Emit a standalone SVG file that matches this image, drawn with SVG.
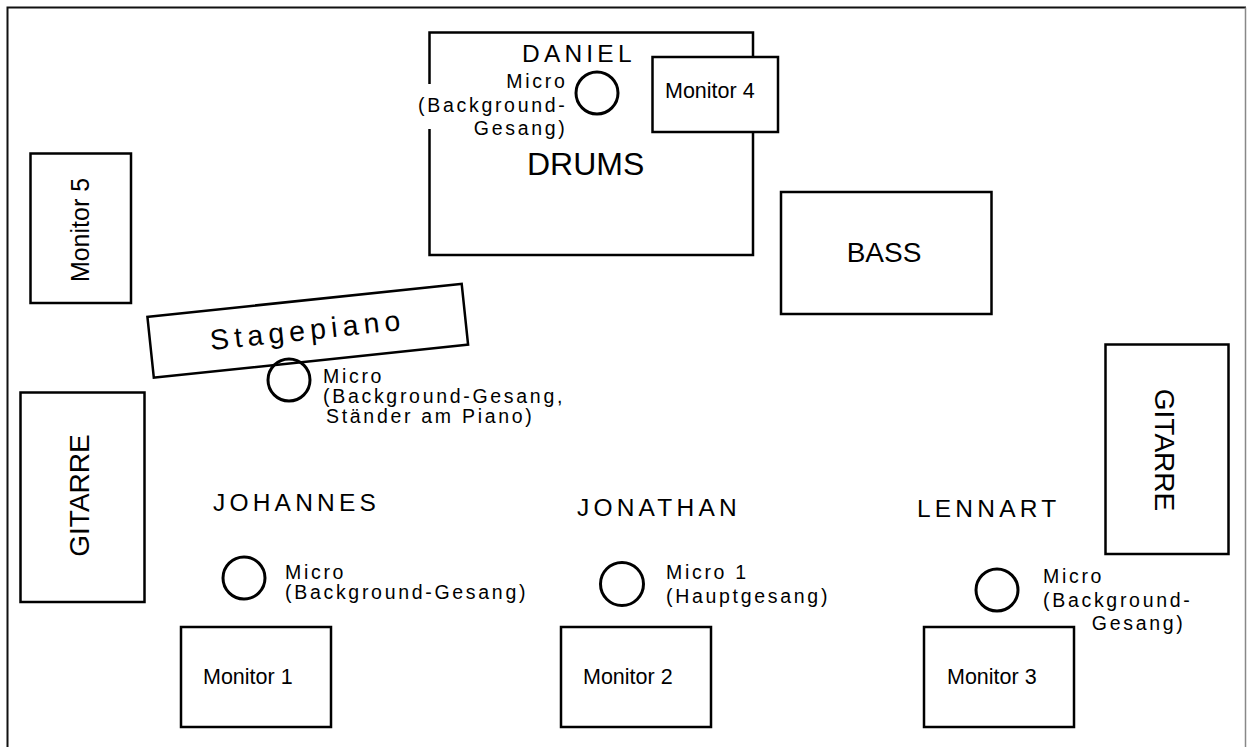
<svg xmlns="http://www.w3.org/2000/svg" width="1247" height="747" viewBox="0 0 1247 747">
<style>
text{font-family:"Liberation Sans",Arial,Helvetica,sans-serif;fill:#000}
.box{fill:#fff;stroke:#000;stroke-width:2.5}
.mic{fill:none;stroke:#000;stroke-width:3}
.mon{font-size:21.5px}
.name{font-size:24.5px;letter-spacing:4.2px}
.lbl{font-size:19.5px;letter-spacing:2.7px}
.big{font-size:28px}
</style>
<rect width="1247" height="747" fill="#fff"/>
<g id="border">
<path d="M7.5,747 V7.5 H1246" fill="none" stroke="#111" stroke-width="2"/>
<path d="M1245.5,7.5 V747" fill="none" stroke="#888" stroke-width="1.5"/>
</g>
<g id="drums">
<rect class="box" x="429.5" y="32.5" width="323.5" height="222.5"/>
<rect x="414" y="84" width="40" height="45" fill="#fff"/>
<text x="522" y="62" class="name">DANIEL</text>
<text x="527" y="175" font-size="32px">DRUMS</text>
</g>
<g id="mic-drums">
<circle class="mic" cx="597" cy="93" r="21"/>
<text class="lbl" text-anchor="end"><tspan x="567.5" y="88">Micro</tspan><tspan x="567.5" y="112">(Background-</tspan><tspan x="567.5" y="135">Gesang)</tspan></text>
</g>
<g id="monitor4">
<rect class="box" x="652.5" y="57" width="125.5" height="75"/>
<text x="665" y="98" class="mon">Monitor 4</text>
</g>
<g id="monitor5">
<rect class="box" x="30.5" y="153.5" width="100.5" height="149.5"/>
<text transform="translate(89,230) rotate(-90)" text-anchor="middle" font-size="25px">Monitor 5</text>
</g>
<g id="bass">
<rect class="box" x="781" y="192" width="210.5" height="122"/>
<text x="884" y="262" text-anchor="middle" class="big">BASS</text>
</g>
<g id="stagepiano" transform="translate(307.75,330.75) rotate(-6)">
<rect class="box" x="-158" y="-30.6" width="316" height="61.2"/>
<text x="0" y="9" text-anchor="middle" font-size="28.5px" letter-spacing="5.2px">Stagepiano</text>
</g>
<g id="mic-piano">
<circle class="mic" cx="289" cy="380" r="21"/>
<text class="lbl"><tspan x="323" y="383">Micro</tspan><tspan x="323" y="403">(Background-Gesang,</tspan><tspan x="326" y="423">Ständer am Piano)</tspan></text>
</g>
<g id="gitarre-left">
<rect class="box" x="20.5" y="392.5" width="124" height="209.5"/>
<text transform="translate(89,495.5) rotate(-90)" text-anchor="middle" class="big">GITARRE</text>
</g>
<g id="gitarre-right">
<rect class="box" x="1105.5" y="344.5" width="123" height="209.5"/>
<text transform="translate(1155,450) rotate(90)" text-anchor="middle" class="big">GITARRE</text>
</g>
<g id="johannes">
<text x="213" y="511" class="name">JOHANNES</text>
</g>
<g id="jonathan">
<text x="577" y="516" class="name">JONATHAN</text>
</g>
<g id="lennart">
<text x="917" y="517" class="name">LENNART</text>
</g>
<g id="mic-johannes">
<circle class="mic" cx="244" cy="578" r="21"/>
<text class="lbl"><tspan x="285" y="579">Micro</tspan><tspan x="285" y="599">(Background-Gesang)</tspan></text>
</g>
<g id="mic-jonathan">
<circle class="mic" cx="622" cy="584" r="21.5"/>
<text class="lbl"><tspan x="666" y="579">Micro 1</tspan><tspan x="666" y="603">(Hauptgesang)</tspan></text>
</g>
<g id="mic-lennart">
<circle class="mic" cx="997" cy="590" r="21"/>
<text class="lbl"><tspan x="1043" y="583">Micro</tspan><tspan x="1043" y="607">(Background-</tspan><tspan x="1185.5" y="630" text-anchor="end">Gesang)</tspan></text>
</g>
<g id="monitor1">
<rect class="box" x="181" y="627" width="150" height="100"/>
<text x="203" y="684" class="mon">Monitor 1</text>
</g>
<g id="monitor2">
<rect class="box" x="561" y="627" width="150" height="100"/>
<text x="583" y="684" class="mon">Monitor 2</text>
</g>
<g id="monitor3">
<rect class="box" x="924" y="627" width="150" height="100"/>
<text x="947" y="684" class="mon">Monitor 3</text>
</g>
<g id="connectors"></g>
</svg>
